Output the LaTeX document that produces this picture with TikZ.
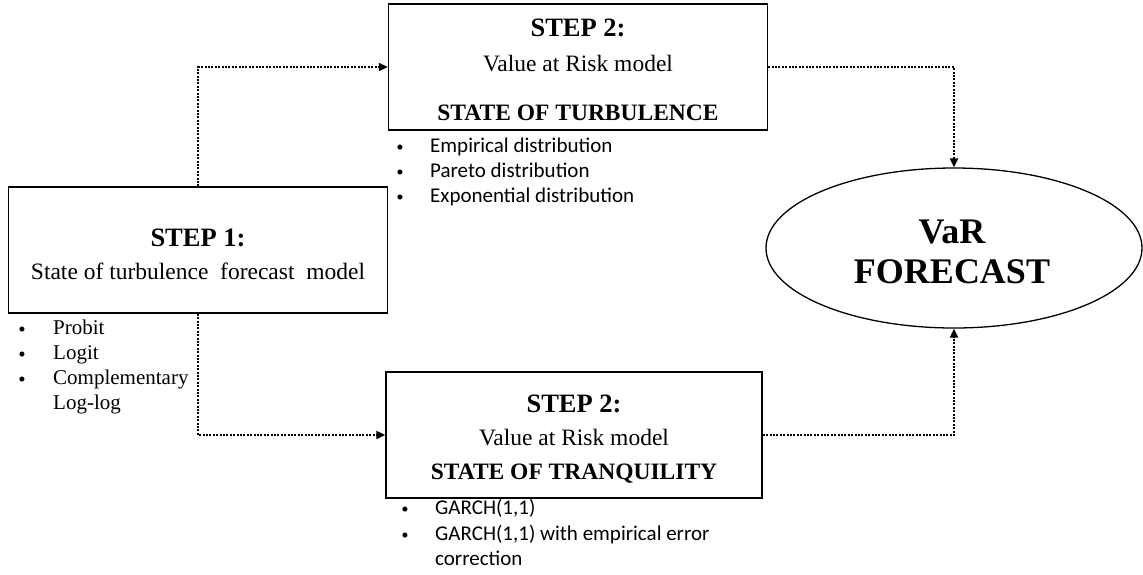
\documentclass[tikz,border=0pt]{standalone}
\usepackage{fontspec}
\setmainfont{Liberation Serif}
\newfontfamily\listfont{Carlito}
\usetikzlibrary{arrows.meta,shapes.geometric}

\tikzset{
  stagebox/.style={draw, line width=1.4pt, inner sep=0pt},
  flow/.style={line width=2pt, dash pattern=on 2pt off 1.4pt, -{Triangle[length=9pt,width=8pt]}},
  head/.style={font=\fontsize{26.5}{30}\selectfont\bfseries},
  sub/.style={font=\fontsize{23.5}{27}\selectfont},
  item/.style={anchor=west, inner sep=0pt, text height=0.72em, text depth=0.22em},
  dot/.style={anchor=center, inner sep=0pt, font=\fontsize{21}{24}\selectfont},
}

\begin{document}
\begin{tikzpicture}[x=1pt,y=-1pt]
\useasboundingbox (0,0) rectangle (1143,574);
% boxes
\node[stagebox, minimum width=379pt, minimum height=126pt] (turb) at (578,67) {};
\node[stagebox, minimum width=379pt, minimum height=126pt] (stepone) at (198,250) {};
\node[stagebox, minimum width=376pt, minimum height=126pt] (tranq) at (574,435) {};
\node[draw, line width=1.3pt, ellipse, inner sep=0pt, minimum width=376pt, minimum height=160pt] (var) at (954,248) {};
% texts in the boxes
\node[head] (turbhead) at (578,28) {STEP 2:};
\node[sub] (turbsub) at (578,64) {Value at Risk model};
\node[sub, font=\fontsize{23.5}{27}\selectfont\bfseries] (turbstate) at (578,113) {STATE OF TURBULENCE};
\node[head] (onehead) at (198,238) {STEP 1:};
\node[sub] (onesub) at (198,271) {State of turbulence\ \ forecast\ \ model};
\node[head] (tranqhead) at (574,404) {STEP 2:};
\node[sub] (tranqsub) at (574,438) {Value at Risk model};
\node[sub, font=\fontsize{23.5}{27}\selectfont\bfseries] (tranqstate) at (574,474) {STATE OF TRANQUILITY};
\node[font=\fontsize{36}{40}\selectfont\bfseries, align=center] (vartext) at (952,252) {VaR\\[0pt]FORECAST};
% lists
\foreach \t [count=\i] in {Probit, Logit, Complementary} {
  \node[dot] (pb\i) at (22,307+25*\i) {\textbullet};
  \node[item, font=\fontsize{21}{24}\selectfont] (pt\i) at (53,307+25*\i) {\t};
}
\node[item, font=\fontsize{21}{24}\selectfont] (pt4) at (53,407) {Log-log};
\foreach \t [count=\i] in {Empirical distribution, Pareto distribution, Exponential distribution} {
  \node[dot] (db\i) at (400,125+25*\i) {\textbullet};
  \node[item, font=\listfont\fontsize{21}{24}\selectfont] (dt\i) at (430,125+25*\i) {\t};
}
\node[dot] (gb1) at (405,512) {\textbullet};
\node[item, font=\listfont\fontsize{21}{24}\selectfont] (gt1) at (435,512) {GARCH(1,1)};
\node[dot] (gb2) at (405,538) {\textbullet};
\node[item, font=\listfont\fontsize{21}{24}\selectfont] (gt2) at (435,538) {GARCH(1,1) with empirical error};
\node[item, font=\listfont\fontsize{21}{24}\selectfont] (gt3) at (435,563) {correction};
% connectors
\draw[flow] (stepone.north) |- (turb.west);
\draw[flow] (stepone.south) |- (tranq.west);
\draw[flow] (turb.east) -| (var.north);
\draw[flow] (tranq.east) -| (var.south);
\end{tikzpicture}
\end{document}
